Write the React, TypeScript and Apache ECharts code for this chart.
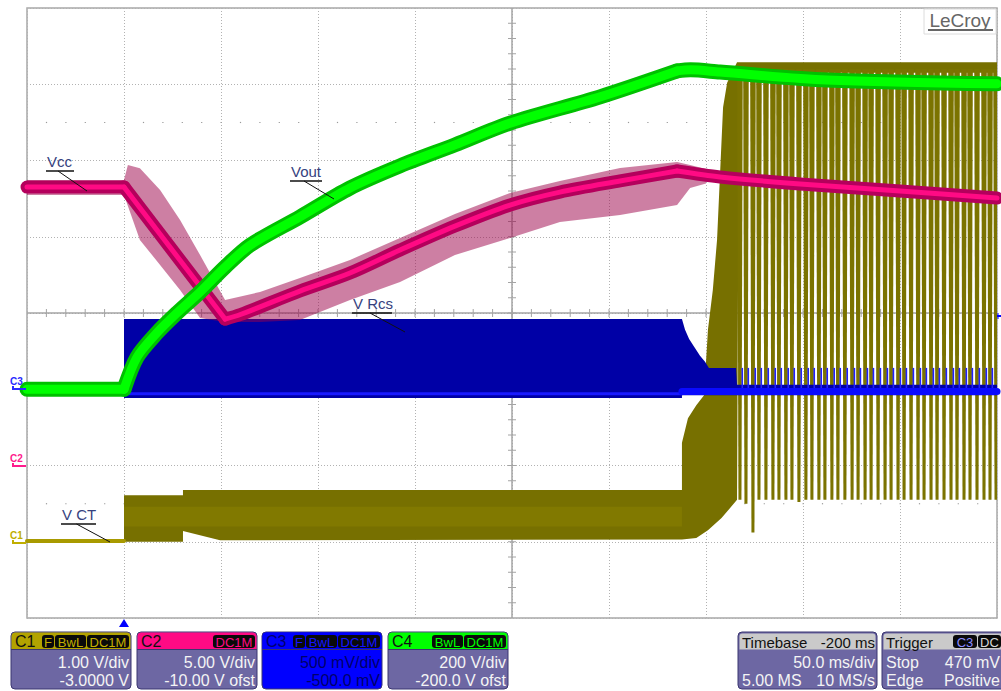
import React, { useEffect, useRef } from "react";
import * as echarts from "echarts";

const FONT = '"Liberation Sans", Arial, sans-serif';

// Horizontal: time in ms relative to the trigger (50 ms/div, trigger one division from the left edge)
const timeMin = -50;
const timeMax = 450;
const timeStep = 50;

// Vertical ranges of each channel (centre ± 4 div)
const c1Range = [-1, 7]; // 1.00 V/div, -3.0000 V offset
const c2Range = [-10, 30]; // 5.00 V/div, -10.00 V offset
const c3Range = [-1.5, 2.5]; // 500 mV/div, -500.0 mV offset
const c4Range = [-600, 1000]; // 200 V/div, -200.0 V offset

// C4 – Vout (V)
const vout: [number, number][] = [
  [-50, 0], [0, 0], [6.7, 84], [17.0, 148], [27.3, 200], [39.2, 255], [52, 320],
  [65.0, 378], [90.7, 452], [116.5, 528], [142.3, 586], [170.6, 641], [199.0, 698],
  [245.4, 767], [285.1, 835], [292, 838], [307.2, 832], [362.4, 811], [450, 801],
];

// C2 – Vcc (V), averaged trace and noise envelope
const vcc: [number, number][] = [
  [-50, 18.26], [0, 18.26], [52.1, 9.6], [60, 9.9], [90.7, 11.44], [116.5, 12.62],
  [142.3, 14.13], [170.6, 15.7], [199.0, 17.08], [224.7, 17.93], [255.7, 18.66],
  [285.1, 19.31], [307.2, 18.92], [348.5, 18.46], [400, 18.0], [450, 17.54],
];
const vccNoiseUpper: [number, number][] = [
  [-50, 18.72], [0, 18.72], [2, 19.7], [8.2, 19.5], [18.6, 18.07], [28.9, 16.1],
  [39.2, 13.8], [52.1, 10.85], [70.1, 11.38], [90.7, 12.3], [116.5, 13.48],
  [142.3, 14.92], [170.6, 16.49], [199.0, 17.87], [224.7, 18.66], [255.7, 19.51],
  [285.1, 19.9], [291.8, 19.7], [300, 19.45],
];
const vccNoiseLower: [number, number][] = [
  [-50, 17.74], [0, 17.74], [8.2, 14.79], [18.6, 13.15], [28.9, 11.51], [39.2, 9.67],
  [52.1, 9.41], [70.1, 9.41], [90.7, 9.54], [116.5, 10.85], [142.3, 12.03],
  [170.6, 13.8], [199.0, 14.92], [224.7, 15.97], [255.7, 16.43], [285.1, 17.08],
  [291.8, 18.2], [300, 18.5],
];

// C3 – V Rcs (V), switching envelope and baseline
const vrcsUpper: [number, number][] = [
  [-50, 0.02], [0, 0.02], [0, 0.46], [287.6, 0.46], [289.2, 0.39], [291.3, 0.33],
  [293.8, 0.28], [296.9, 0.22], [299.5, 0.18], [301.5, 0.14], [315.5, 0.14],
  [316, 0.03], [450, 0.03],
];
const vrcsLower: [number, number][] = [
  [-50, -0.02], [0, -0.02], [0, -0.057], [287.6, -0.057], [287.6, -0.04], [450, -0.04],
];
const vrcsBaseRun: [number, number][] = [[-50, -0.01], [0, -0.03], [287.6, -0.03]];
const vrcsBaseBurst: [number, number][] = [[287.6, -0.015], [450, -0.015]];
const vrcsSpike = 0.14;

// C1 – V CT (V)
const vctIdle: [number, number][] = [[-50, 0.01], [0, 0.01]];
const vctUpper: [number, number][] = [
  [0, 0.61], [30.4, 0.61], [30.4, 0.68], [287.6, 0.68], [287.6, 1.3], [290.7, 1.62],
  [295, 1.79], [299, 1.92], [301, 2.78], [303.5, 3.3], [305.7, 3.96], [308.8, 5.7],
  [310.9, 6.02], [316, 6.29], [450, 6.29],
];
const vctLower: [number, number][] = [
  [0, 0.0], [30.4, 0.0], [30.4, 0.14], [49.5, 0.02], [287.6, 0.03], [295, 0.05],
  [301, 0.15], [308, 0.31], [316, 0.55], [317, 6.15], [450, 6.15],
];
const vctInnerUpper: [number, number][] = [[0, 0.46], [287.6, 0.46]];
const vctInnerLower: [number, number][] = [[0, 0.2], [287.6, 0.2]];

// Burst pulses after the supply comes up (ms) and the low end of each pulse (V)
const pulseTimes = [
  317.5, 320.6, 324.2, 327.3, 330.9, 334.5, 337.6, 341.2, 344.3, 347.9, 351.5, 354.6,
  358.2, 361.3, 364.9, 368.0, 371.6, 375.3, 378.4, 382.0, 385.1, 388.7, 392.3, 395.4,
  399.0, 402.1, 405.7, 409.3, 412.4, 416.0, 419.1, 422.7, 426.3, 429.4, 433.0, 436.1,
  439.7, 443.3, 446.4, 449.5,
];
const pulseLow = [
  0.55, 0.5, 0.12, 0.55, 0.55, 0.55, 0.55, 0.55, 0.55, 0.52, 0.55, 0.55,
  0.55, 0.55, 0.55, 0.55, 0.55, 0.55, 0.55, 0.55, 0.55, 0.55, 0.55, 0.55,
  0.55, 0.55, 0.55, 0.55, 0.55, 0.55, 0.55, 0.55, 0.55, 0.55, 0.55, 0.55,
  0.55, 0.55, 0.55, 0.55,
];
const pulseHigh = 6.2;

// Panel texts along the bottom
const channelPanels = [
  { name: "C1", x: 11, head: "#b3a300", pill: "#c2b000", body: "#6d67a3", text: "#f4f4f4", label: "#111", pills: ["F", "BwL", "DC1M"], scale: "1.00 V/div", offset: "-3.0000 V" },
  { name: "C2", x: 137, head: "#ff0a84", pill: "#ff0a84", body: "#6d67a3", text: "#f4f4f4", label: "#111", pills: ["DC1M"], scale: "5.00 V/div", offset: "-10.00 V ofst" },
  { name: "C3", x: 262, head: "#0000ff", pill: "#1414ff", body: "#0000ff", text: "#00006a", label: "#00006a", pills: ["F", "BwL", "DC1M"], scale: "500 mV/div", offset: "-500.0 mV" },
  { name: "C4", x: 388, head: "#00ff00", pill: "#00ff00", body: "#6d67a3", text: "#f4f4f4", label: "#111", pills: ["BwL", "DC1M"], scale: "200 V/div", offset: "-200.0 V ofst" },
];
const pillSlots: Record<string, [number, number]> = { F: [31, 12], BwL: [44, 31], DC1M: [76, 42] };

const timebaseText = { head: ["Timebase", "-200 ms"], row1: "50.0 ms/div", row2: ["5.00 MS", "10 MS/s"] };
const triggerText = { head: "Trigger", pills: ["C3", "DC"], row1: ["Stop", "470 mV"], row2: ["Edge", "Positive"] };

const traceLabels = [
  { text: "Vcc", x: 47, y: 169, ux1: 46, ux2: 74, uy: 171, lx: 87, ly: 191 },
  { text: "Vout", x: 291, y: 179, ux1: 290, ux2: 322, uy: 181, lx: 334, ly: 199 },
  { text: "V Rcs", x: 353, y: 311, ux1: 352, ux2: 392, uy: 313, lx: 405, ly: 332 },
  { text: "V CT", x: 62, y: 522, ux1: 61, ux2: 96, uy: 524, lx: 110, ly: 542 },
];

function band(name: string, yAxisIndex: number, upper: [number, number][], lower: [number, number][], fill: string, opacity: number, z: number) {
  const pts = upper.concat(lower.slice().reverse());
  return {
    type: "custom",
    name,
    xAxisIndex: 0,
    yAxisIndex,
    z,
    silent: true,
    clip: true,
    data: [upper[0]],
    renderItem: (_p: any, api: any) => ({
      type: "polygon",
      shape: { points: pts.map((p) => api.coord(p)) },
      style: { fill, opacity },
    }),
  };
}

function trace(name: string, yAxisIndex: number, data: [number, number][], color: string, width: number, z: number, smooth = 0) {
  return {
    type: "line",
    name,
    yAxisIndex,
    z,
    data,
    symbol: "none",
    silent: true,
    smooth,
    lineStyle: { color, width, join: "round", cap: "round" },
  };
}

// Split a trace at given times so that kinks stay sharp while the runs in between are smoothed
function segments(data: [number, number][], cuts: number[]) {
  const out: [number, number][][] = [];
  let cur: [number, number][] = [];
  data.forEach((p) => {
    cur.push(p);
    if (cuts.includes(p[0])) {
      out.push(cur);
      cur = [p];
    }
  });
  if (cur.length > 1) out.push(cur);
  return out;
}

function buildGraphics() {
  const g: any[] = [];
  // LeCroy badge
  g.push({ type: "rect", z: 100, shape: { x: 924, y: 9, width: 72, height: 25 }, style: { fill: "#fff", stroke: "#dcdcdc", lineWidth: 1 } });
  g.push({ type: "text", z: 101, style: { text: "LeCroy", x: 960, y: 20, align: "center", verticalAlign: "middle", fill: "#666", font: `19px ${FONT}` } });
  g.push({ type: "line", z: 101, shape: { x1: 928, y1: 30, x2: 993, y2: 30 }, style: { stroke: "#666", lineWidth: 2 } });

  // trace labels with leaders
  traceLabels.forEach((l) => {
    g.push({ type: "text", z: 100, style: { text: l.text, x: l.x, y: l.y, verticalAlign: "bottom", fill: "#36427e", font: `15px ${FONT}` } });
    g.push({ type: "line", z: 100, shape: { x1: l.ux1, y1: l.uy, x2: l.ux2, y2: l.uy }, style: { stroke: "#111", lineWidth: 1.5 } });
    g.push({ type: "line", z: 100, shape: { x1: (l.ux1 + l.ux2) / 2 - 2, y1: l.uy, x2: l.lx, y2: l.ly }, style: { stroke: "#111", lineWidth: 1 } });
  });

  // channel ground markers at the left edge
  const markers = [
    { t: "C3", y: 381, ly: 389, c: "#2a2aff" },
    { t: "C2", y: 458, ly: 466, c: "#ff1a8c" },
    { t: "C1", y: 535, ly: 543, c: "#c0ae00" },
  ];
  markers.forEach((m) => {
    g.push({ type: "text", z: 100, style: { text: m.t, x: 10, y: m.y, verticalAlign: "middle", fill: m.c, font: `bold 10px ${FONT}` } });
    g.push({ type: "polyline", z: 100, shape: { points: [[13, m.ly - 3], [13, m.ly], [26, m.ly]] }, style: { stroke: m.c, lineWidth: 2, fill: "none" } });
  });

  // trigger position and level markers
  g.push({ type: "polygon", z: 100, shape: { points: [[124, 619], [119, 627], [129, 627]] }, style: { fill: "#0000ff" } });
  g.push({ type: "line", z: 100, shape: { x1: 997, y1: 316, x2: 1001, y2: 316 }, style: { stroke: "#0000ff", lineWidth: 2 } });
  g.push({ type: "line", z: 100, shape: { x1: 998, y1: 313, x2: 998, y2: 319 }, style: { stroke: "#0000ff", lineWidth: 1 } });

  const top = 632;
  const h = 57;
  const hh = 17;
  const row1 = 662;
  const row2 = 680;
  const bodyFont = `16px ${FONT}`;

  channelPanels.forEach((p) => {
    const w = 120;
    g.push({ type: "rect", z: 100, shape: { x: p.x, y: top, width: w, height: h, r: 4 }, style: { fill: p.body, stroke: "#3b3670", lineWidth: 1 } });
    g.push({ type: "rect", z: 101, shape: { x: p.x + 0.5, y: top + 0.5, width: w - 1, height: hh, r: [4, 4, 0, 0] }, style: { fill: p.head } });
    g.push({ type: "line", z: 101, shape: { x1: p.x, y1: top + hh + 0.5, x2: p.x + w, y2: top + hh + 0.5 }, style: { stroke: "#3b3670", lineWidth: 1 } });
    g.push({ type: "text", z: 102, style: { text: p.name, x: p.x + 4, y: top + 9, verticalAlign: "middle", fill: p.label, font: bodyFont } });
    p.pills.forEach((name) => {
      const [ox, pw] = pillSlots[name];
      g.push({ type: "rect", z: 102, shape: { x: p.x + ox, y: top + 3, width: pw, height: 13, r: 3 }, style: { fill: "#0a0a0a" } });
      g.push({ type: "text", z: 103, style: { text: name, x: p.x + ox + pw / 2, y: top + 10, align: "center", verticalAlign: "middle", fill: p.pill, font: `13px ${FONT}` } });
    });
    g.push({ type: "text", z: 102, style: { text: p.scale, x: p.x + 118, y: row1, align: "right", verticalAlign: "middle", fill: p.text, font: bodyFont } });
    g.push({ type: "text", z: 102, style: { text: p.offset, x: p.x + 118, y: row2, align: "right", verticalAlign: "middle", fill: p.text, font: bodyFont } });
  });

  // Timebase panel
  const tx = 738;
  const tw = 139;
  const headFont = `15px ${FONT}`;
  g.push({ type: "rect", z: 100, shape: { x: tx, y: top, width: tw, height: h, r: 4 }, style: { fill: "#6d67a3", stroke: "#3b3670", lineWidth: 1 } });
  g.push({ type: "rect", z: 101, shape: { x: tx + 1.5, y: top + 1.5, width: tw - 3, height: hh - 1, r: [3, 3, 0, 0] }, style: { fill: "#cacaca" } });
  g.push({ type: "text", z: 102, style: { text: timebaseText.head[0], x: tx + 4, y: top + 10, verticalAlign: "middle", fill: "#111", font: headFont } });
  g.push({ type: "text", z: 102, style: { text: timebaseText.head[1], x: tx + tw - 2, y: top + 10, align: "right", verticalAlign: "middle", fill: "#111", font: headFont } });
  g.push({ type: "text", z: 102, style: { text: timebaseText.row1, x: tx + tw - 2, y: row1, align: "right", verticalAlign: "middle", fill: "#f4f4f4", font: bodyFont } });
  g.push({ type: "text", z: 102, style: { text: timebaseText.row2[0], x: tx + 4, y: row2, verticalAlign: "middle", fill: "#f4f4f4", font: bodyFont } });
  g.push({ type: "text", z: 102, style: { text: timebaseText.row2[1], x: tx + tw - 2, y: row2, align: "right", verticalAlign: "middle", fill: "#f4f4f4", font: bodyFont } });

  // Trigger panel (runs off the right edge)
  const gx = 882;
  const gw = 130;
  g.push({ type: "rect", z: 100, shape: { x: gx, y: top, width: gw, height: h, r: 4 }, style: { fill: "#6d67a3", stroke: "#3b3670", lineWidth: 1 } });
  g.push({ type: "rect", z: 101, shape: { x: gx + 1.5, y: top + 1.5, width: gw - 3, height: hh - 1, r: [3, 3, 0, 0] }, style: { fill: "#cacaca" } });
  g.push({ type: "text", z: 102, style: { text: triggerText.head, x: gx + 4, y: top + 10, verticalAlign: "middle", fill: "#111", font: headFont } });
  const tp: [number, number, string][] = [[953, 24, "#8c8cff"], [978, 23, "#d8d8d8"]];
  triggerText.pills.forEach((name, i) => {
    const [px, pw, col] = tp[i];
    g.push({ type: "rect", z: 102, shape: { x: px, y: top + 3, width: pw, height: 13, r: 3 }, style: { fill: "#0a0a0a" } });
    g.push({ type: "text", z: 103, style: { text: name, x: px + pw / 2, y: top + 10, align: "center", verticalAlign: "middle", fill: col, font: `13px ${FONT}` } });
  });
  g.push({ type: "text", z: 102, style: { text: triggerText.row1[0], x: gx + 4, y: row1, verticalAlign: "middle", fill: "#f4f4f4", font: bodyFont } });
  g.push({ type: "text", z: 102, style: { text: triggerText.row1[1], x: 1000, y: row1, align: "right", verticalAlign: "middle", fill: "#f4f4f4", font: bodyFont } });
  g.push({ type: "text", z: 102, style: { text: triggerText.row2[0], x: gx + 4, y: row2, verticalAlign: "middle", fill: "#f4f4f4", font: bodyFont } });
  g.push({ type: "text", z: 102, style: { text: triggerText.row2[1], x: 1000, y: row2, align: "right", verticalAlign: "middle", fill: "#f4f4f4", font: bodyFont } });
  return g;
}

export default function App() {
  const ref = useRef<HTMLDivElement>(null);

  useEffect(() => {
    if (!ref.current) return;
    const chart = echarts.init(ref.current, undefined, { renderer: "svg" });

    const graticule = {
      type: "custom",
      name: "graticule",
      xAxisIndex: 0,
      yAxisIndex: 0,
      z: 1,
      silent: true,
      data: [[200, 3]],
      renderItem: (_p: any, api: any) => {
        const children: any[] = [];
        const c = api.coord([200, 3]);
        const tl = api.coord([timeMin, c1Range[1]]);
        const br = api.coord([timeMax, c1Range[0]]);
        const grey = "#a4a4a4";
        children.push({ type: "line", shape: { x1: tl[0], y1: c[1], x2: br[0], y2: c[1] }, style: { stroke: grey, lineWidth: 1.5 } });
        children.push({ type: "line", shape: { x1: c[0], y1: tl[1], x2: c[0], y2: br[1] }, style: { stroke: grey, lineWidth: 1.5 } });
        for (let t = timeMin + 10; t < timeMax; t += 10) {
          const p = api.coord([t, 3]);
          children.push({ type: "line", shape: { x1: p[0], y1: p[1] - 4, x2: p[0], y2: p[1] + 4 }, style: { stroke: grey, lineWidth: 1 } });
          for (const v of [0.5, 5.5]) {
            const d = api.coord([t, v]);
            children.push({ type: "rect", shape: { x: d[0] - 0.5, y: d[1] - 0.5, width: 1.2, height: 1.2 }, style: { fill: "#9a9a9a" } });
          }
        }
        for (let k = 1; k < 40; k++) {
          const v = c1Range[0] + k * 0.2;
          const p = api.coord([200, v]);
          children.push({ type: "line", shape: { x1: p[0] - 4, y1: p[1], x2: p[0] + 4, y2: p[1] }, style: { stroke: grey, lineWidth: 1 } });
        }
        return { type: "group", children };
      },
    };

    // each burst pulse: wide at the top, narrowing towards its low end
    const pulseBars = {
      type: "custom",
      name: "V CT pulses",
      xAxisIndex: 0,
      yAxisIndex: 0,
      z: 2,
      silent: true,
      clip: true,
      data: pulseTimes.map((t, i) => [t, pulseLow[i], pulseHigh]),
      encode: { x: 0, y: [1, 2] },
      renderItem: (_p: any, api: any) => {
        const a = api.coord([api.value(0), api.value(2)]);
        const b = api.coord([api.value(0), api.value(1)]);
        return {
          type: "polygon",
          shape: { points: [[a[0] - 2.8, a[1]], [a[0] + 2.8, a[1]], [b[0] + 1.5, b[1]], [b[0] - 1.5, b[1]]] },
          style: { fill: "#7b7300" },
        };
      },
    };

    const rcsSpikes = {
      type: "custom",
      name: "V Rcs spikes",
      xAxisIndex: 0,
      yAxisIndex: 2,
      z: 3,
      silent: true,
      clip: true,
      data: pulseTimes.map((t) => [t + 1.2, 0, vrcsSpike]),
      encode: { x: 0, y: [1, 2] },
      renderItem: (_p: any, api: any) => {
        const a = api.coord([api.value(0), api.value(2)]);
        const b = api.coord([api.value(0), api.value(1)]);
        return { type: "rect", shape: { x: a[0] - 0.8, y: a[1], width: 1.6, height: b[1] - a[1] }, style: { fill: "#2020ff" } };
      },
    };

    const vccParts = segments(vcc, [0, 52.1, 285.1]);
    const voutParts = segments(vout, [0, 285.1]);
    const smoothFor = (seg: [number, number][]) => (seg.length > 3 ? 0.3 : 0);

    chart.setOption({
      animation: false,
      backgroundColor: "#ffffff",
      grid: { left: 27, right: 4, top: 8, bottom: 73, show: true, borderColor: "#a8a8a8", borderWidth: 1.5, backgroundColor: "#fff" },
      xAxis: {
        type: "value",
        min: timeMin,
        max: timeMax,
        interval: timeStep,
        axisLine: { show: false },
        axisTick: { show: false },
        axisLabel: { show: false },
        splitLine: { show: true, lineStyle: { color: "#b2b2b2", type: [1, 2], width: 1 } },
      },
      yAxis: [
        {
          type: "value",
          min: c1Range[0],
          max: c1Range[1],
          interval: 1,
          axisLine: { show: false },
          axisTick: { show: false },
          axisLabel: { show: false },
          splitLine: { show: true, lineStyle: { color: "#b2b2b2", type: [1, 2], width: 1 } },
        },
        { type: "value", min: c2Range[0], max: c2Range[1], show: false },
        { type: "value", min: c3Range[0], max: c3Range[1], show: false },
        { type: "value", min: c4Range[0], max: c4Range[1], show: false },
      ],
      series: [
        graticule,
        // C1 – V CT
        trace("V CT idle", 0, vctIdle, "#a89a00", 4, 2),
        band("V CT", 0, vctUpper, vctLower, "#777000", 1, 2),
        band("V CT inner", 0, vctInnerUpper, vctInnerLower, "#817900", 1, 2),
        pulseBars,
        // C3 – V Rcs
        band("V Rcs", 2, vrcsUpper, vrcsLower, "#0000a6", 1, 3),
        rcsSpikes,
        trace("V Rcs base", 2, vrcsBaseRun, "#1a1aff", 3, 3),
        trace("V Rcs base burst", 2, vrcsBaseBurst, "#0a0aff", 7, 3),
        // C2 – Vcc
        band("Vcc noise", 1, vccNoiseUpper, vccNoiseLower, "#9c0048", 0.5, 4),
        ...vccParts.map((s) => trace("Vcc band", 1, s, "#b4005c", 13, 4, smoothFor(s))),
        ...vccParts.map((s) => trace("Vcc", 1, s, "#ff0a84", 5, 4, smoothFor(s))),
        // C4 – Vout
        ...voutParts.map((s) => trace("Vout band", 3, s, "#00c000", 15, 5, smoothFor(s))),
        ...voutParts.map((s) => trace("Vout", 3, s, "#00ff00", 9, 5, smoothFor(s))),
      ],
      graphic: buildGraphics(),
    });

    return () => chart.dispose();
  }, []);

  return (
    <div
      ref={ref}
      style={{ position: "fixed", left: 0, top: 0, width: 1001, height: 691, background: "#fff" }}
    />
  );
}
